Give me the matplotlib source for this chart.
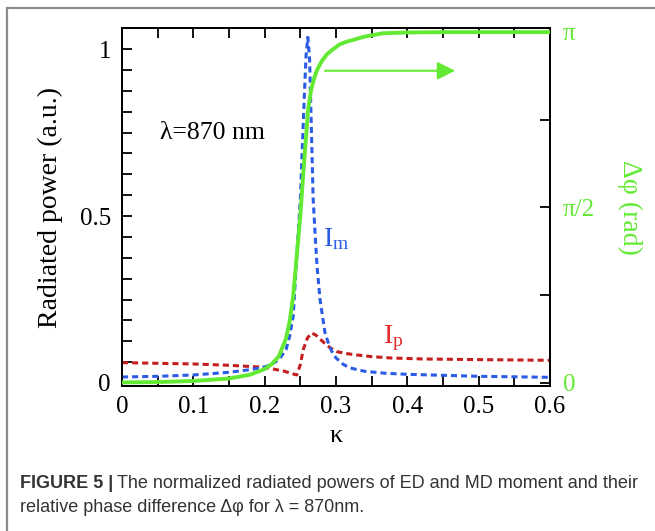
import numpy as np
import matplotlib
matplotlib.use("Agg")
import matplotlib.pyplot as plt
from matplotlib.lines import Line2D
from matplotlib.ticker import MultipleLocator

plt.rcParams['font.family'] = ['Liberation Serif', 'DejaVu Serif']
plt.rcParams['mathtext.fontset'] = 'custom'
plt.rcParams['mathtext.rm'] = 'Liberation Serif'

# ---- data ----
kappa_m = [0, 0.05, 0.1, 0.15, 0.18, 0.2, 0.21, 0.22, 0.23, 0.235, 0.24, 0.245,
           0.25, 0.253, 0.256, 0.258, 0.2605, 0.263, 0.265, 0.268, 0.2706, 0.2734,
           0.2776, 0.2846, 0.29, 0.294, 0.30, 0.31, 0.32, 0.34, 0.37, 0.4, 0.5, 0.6]
I_m = [0.018, 0.02, 0.024, 0.032, 0.04, 0.048, 0.056, 0.07, 0.1, 0.14, 0.2, 0.38,
       0.55, 0.72, 0.88, 0.98, 1.035, 0.97, 0.8, 0.55, 0.45, 0.35,
       0.25, 0.15, 0.115, 0.095, 0.075, 0.056, 0.045, 0.035, 0.029, 0.026, 0.02, 0.017]

kappa_p = [0, 0.05, 0.1, 0.15, 0.2, 0.228, 0.24, 0.245, 0.25, 0.254, 0.26, 0.266,
           0.272, 0.282, 0.292, 0.301, 0.315, 0.329, 0.35, 0.376, 0.42, 0.5, 0.6]
I_p = [0.061, 0.059, 0.057, 0.053, 0.047, 0.035, 0.027, 0.024, 0.055, 0.1, 0.135, 0.15,
       0.143, 0.123, 0.105, 0.094, 0.088, 0.084, 0.079, 0.075, 0.072, 0.07, 0.068]

kappa_phi = [0, 0.05, 0.1, 0.15, 0.18, 0.2, 0.21, 0.22, 0.23, 0.235, 0.24, 0.245, 0.25,
             0.255, 0.2608, 0.265, 0.27, 0.2734, 0.28, 0.287, 0.2944, 0.305, 0.315,
             0.3238, 0.34, 0.366, 0.4, 0.45, 0.5, 0.6]
phi = [0.005, 0.008, 0.018, 0.04, 0.075, 0.125, 0.17, 0.24, 0.4, 0.55, 0.78, 1.14, 1.5,
       1.95, 2.44, 2.62, 2.74, 2.80, 2.88, 2.94, 2.98, 3.03, 3.055,
       3.07, 3.10, 3.13, 3.137, 3.14, 3.14, 3.14]

x_ticks = [0, 0.1, 0.2, 0.3, 0.4, 0.5, 0.6]
x_tick_labels = ['0', '0.1', '0.2', '0.3', '0.4', '0.5', '0.6']
y_ticks = [0, 0.5, 1]
y_tick_labels = ['0', '0.5', '1']
phi_ticks = [0, np.pi / 4, np.pi / 2, 3 * np.pi / 4, np.pi]
phi_tick_labels = ['0', '', 'π/2', '', 'π']

GREEN = '#62ea32'
BLUE = '#2a5ce6'
RED_LINE = '#c41e1e'
RED_TXT = '#e42a2a'

W, H = 655, 531
fig = plt.figure(figsize=(W / 100, H / 100), dpi=100)
ax = fig.add_axes([122 / W, 1 - 386 / H, (550 - 122) / W, (386 - 28) / H])
ax2 = ax.twinx()

dash = (0, (2, 1.3))
ax.plot(kappa_p, I_p, color=RED_LINE, lw=2.2, linestyle=dash, zorder=2)
ax.plot(kappa_m, I_m, color=BLUE, lw=2.2, linestyle=dash, zorder=3)
ax2.plot(kappa_phi, phi, color=GREEN, lw=2.8, solid_capstyle='butt',
         solid_joinstyle='round', zorder=4)

ax.set_xlim(0, 0.6)
ax.set_ylim(-0.009, 1.063)
ax2.set_ylim(-0.027, 3.177)

ax.set_xticks(x_ticks)
ax.set_xticklabels(x_tick_labels)
ax.xaxis.set_minor_locator(MultipleLocator(0.05))
ax.set_yticks(y_ticks)
ax.set_yticklabels(y_tick_labels)
ax.yaxis.set_minor_locator(MultipleLocator(0.0625))
ax.tick_params(axis='x', which='both', direction='in', top=True, bottom=True,
               length=7, width=1.3, labelsize=18, pad=7)
ax.tick_params(axis='y', which='both', direction='in', left=True, right=False,
               length=7, width=1.3, labelsize=18, pad=8)
ax2.set_yticks(phi_ticks)
ax2.set_yticklabels(phi_tick_labels)
ax2.tick_params(axis='y', direction='in', length=7, width=1.3, labelsize=18,
                pad=9, labelcolor=GREEN)
for a in (ax, ax2):
    for s in a.spines.values():
        s.set_linewidth(1.4)

ax.set_xlabel('κ', fontsize=19, labelpad=5)
ax.set_ylabel('Radiated power (a.u.)', fontsize=20, labelpad=12)
ax2.set_ylabel('Δφ (rad)', fontsize=20, color=GREEN, rotation=270, labelpad=34)

ax.text(0.053, 0.75, 'λ=870 nm', fontsize=18.5, ha='left', va='center')
ax.text(0.282, 0.43, r'$\mathrm{I_m}$', fontsize=20, color=BLUE, ha='left', va='center')
ax.text(0.366, 0.135, r'$\mathrm{I_p}$', fontsize=20, color=RED_TXT, ha='left', va='center')
ax.annotate('', xy=(0.467, 0.935), xytext=(0.2846, 0.935),
            arrowprops=dict(arrowstyle='-|>,head_length=0.4,head_width=0.2',
                            mutation_scale=27, color=GREEN, lw=1.5,
                            shrinkA=0, shrinkB=0))

# frame
fig.add_artist(Line2D([7 / W, 1], [1 - 8 / H, 1 - 8 / H], color='#8c8c8c', lw=1.6))
fig.add_artist(Line2D([7 / W, 7 / W], [0, 1 - 8 / H], color='#8c8c8c', lw=1.6))

# caption
cap_font = ['Liberation Sans', 'DejaVu Sans']
fig.canvas.draw()
r = fig.canvas.get_renderer()
t1 = fig.text(20 / W, 1 - 483 / H, 'FIGURE 5 |', fontsize=13, fontweight='bold',
              family=cap_font, color='#333333', va='center', ha='left')
bb = t1.get_window_extent(renderer=r)
fig.text(bb.x1 / W + 4 / W, 1 - 483 / H,
         'The normalized radiated powers of ED and MD moment and their',
         fontsize=13, family=cap_font, color='#333333', va='center', ha='left')
fig.text(20 / W, 1 - 507 / H, 'relative phase difference Δφ for λ = 870nm.',
         fontsize=13, family=cap_font, color='#333333', va='center', ha='left')

fig.savefig('out.png', dpi=100)
